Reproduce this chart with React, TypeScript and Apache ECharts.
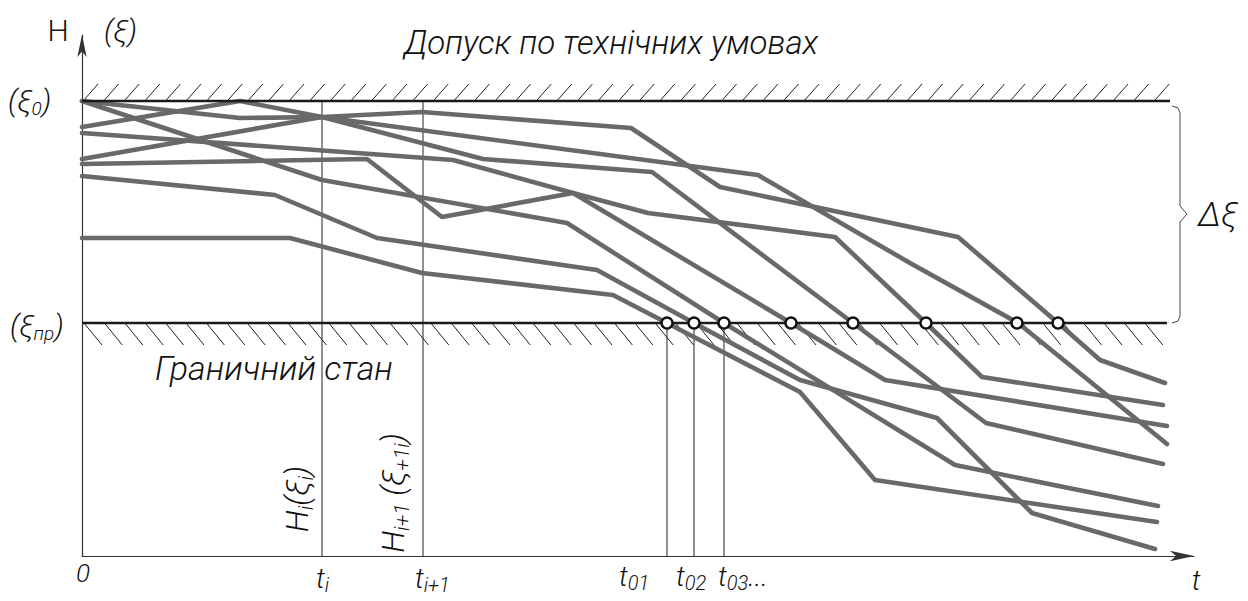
import React, { useEffect, useRef } from "react";
import * as echarts from "echarts";

// ---- layout constants (grid placement) ----
const ORIGIN_X = 82;
const ORIGIN_Y = 556;
const T_MAX = 1112;
const H_MAX = 521;

// ---- levels ----
const levelTop = 455; // (ξ0)
const levelLimit = 233; // (ξпр)
const levelTopEnd = 1088;
const levelLimitEnd = 1085;

// ---- degradation curves [t, H] ----
const curveA = [[0, 455], [158, 438], [240, 439], [676, 381], [828, 293], [936, 233], [1085, 112]];
const curveB = [[0, 429], [158, 455], [240, 439], [401, 397], [570, 384], [771, 233], [904, 133], [1081, 92]];
const curveC = [[0, 455], [240, 376], [485, 333], [642, 233], [873, 91], [1076, 50]];
const curveD = [[0, 423], [371, 396], [491, 363], [566, 343], [753, 319], [844, 233], [900, 179], [1081, 151]];
const curveE = [[0, 397], [240, 439], [340, 444], [549, 428], [638, 369], [876, 319], [976, 233], [1018, 196], [1083, 173]];
const curveF = [[0, 392], [285, 397], [360, 339], [491, 363], [709, 233], [803, 176], [1085, 130]];
const curveG = [[0, 380], [193, 361], [295, 318], [515, 286], [612, 233], [718, 176], [855, 138], [950, 43], [1073, 7]];
const curveH = [[0, 318], [208, 318], [340, 283], [531, 261], [585, 233], [718, 164], [793, 76], [1075, 34]];
const curves = [curveA, curveB, curveC, curveD, curveE, curveF, curveG, curveH];

// ---- crossing points with (ξпр) ----
const crossings = [585, 612, 642, 709, 771, 844, 935, 976];

// ---- vertical reference lines [t, top level] ----
const dropLines = [[240, 455], [341, 455], [585, 233], [612, 233], [642, 233]];

const FONT = "Roboto, 'Liberation Sans', sans-serif";
const X = (t: number) => ORIGIN_X + t;

const richBase = (size: number, italic: boolean, subRatio: number) => ({
  m: { fontSize: size, lineHeight: size + 6, fontFamily: FONT, fontStyle: italic ? "italic" : "normal", fill: "#111", fontWeight: 300 },
  s: { fontSize: Math.round(size * subRatio), lineHeight: Math.round(size * 0.55), verticalAlign: "bottom", fontFamily: FONT, fontStyle: italic ? "italic" : "normal", fill: "#111", fontWeight: 300 },
});

function txt(text: string, x: number, y: number, size: number, italic: boolean, align = "left", rotation = 0, subRatio = 0.64) {
  return {
    type: "text",
    x,
    y,
    rotation,
    z: 100,
    style: {
      text,
      rich: richBase(size, italic, subRatio),
      align,
      verticalAlign: "middle",
      fontFamily: FONT,
      fontSize: size,
      fill: "#111",
    },
  };
}

export default function App() {
  const ref = useRef<HTMLDivElement>(null);
  useEffect(() => {
    if (!ref.current) return;
    const chart = echarts.init(ref.current, undefined, { renderer: "svg" });

    const lineSeries = curves.map((c) => ({
      type: "line",
      data: c,
      symbol: "none",
      z: 3,
      lineStyle: { color: "#696969", width: 4.6, cap: "round", join: "round" },
      silent: true,
    }));

    const option: any = {
      animation: false,
      grid: { left: ORIGIN_X, top: ORIGIN_Y - H_MAX, width: T_MAX, height: H_MAX },
      xAxis: {
        type: "value",
        min: 0,
        max: T_MAX,
        axisLine: { show: true, onZero: false, symbol: ["none", "arrow"], symbolSize: [8, 24], lineStyle: { color: "#333", width: 1.2 } },
        axisTick: { show: false },
        axisLabel: { show: false },
        splitLine: { show: false },
      },
      yAxis: {
        type: "value",
        min: 0,
        max: H_MAX,
        axisLine: { show: true, onZero: false, symbol: ["none", "arrow"], symbolSize: [7, 22], lineStyle: { color: "#333", width: 1.2 } },
        axisTick: { show: false },
        axisLabel: { show: false },
        splitLine: { show: false },
      },
      series: [
        {
          type: "custom",
          silent: true,
          z: 1,
          data: dropLines,
          renderItem: (params: any, api: any) => {
            const p1 = api.coord([api.value(0), api.value(1)]);
            const p2 = api.coord([api.value(0), 0]);
            return {
              type: "line",
              shape: { x1: p1[0], y1: p1[1], x2: p2[0], y2: p2[1] },
              style: { stroke: "#222", lineWidth: 1 },
            };
          },
        },
        {
          type: "custom",
          silent: true,
          z: 1,
          data: [[0, 0]],
          renderItem: (params: any, api: any) => {
            const children: any[] = [];
            const a0 = api.coord([0, levelTop]);
            const a1 = api.coord([levelTopEnd, levelTop]);
            for (let x = a0[0] + 1; x <= a1[0] - 14; x += 20.6) {
              children.push({ type: "line", shape: { x1: x, y1: a0[1], x2: x + 15, y2: a0[1] - 17 }, style: { stroke: "#222", lineWidth: 1 } });
            }
            const b0 = api.coord([0, levelLimit]);
            const b1 = api.coord([levelLimitEnd, levelLimit]);
            for (let x = b0[0] + 2; x <= b1[0] - 17; x += 20.4) {
              children.push({ type: "line", shape: { x1: x, y1: b0[1], x2: x + 18, y2: b0[1] + 22 }, style: { stroke: "#222", lineWidth: 1 } });
            }
            return { type: "group", children };
          },
        },
        ...lineSeries,
        {
          type: "line",
          data: [[0, levelTop], [levelTopEnd, levelTop]],
          symbol: "none",
          z: 4,
          silent: true,
          lineStyle: { color: "#1a1a1a", width: 2.6 },
        },
        {
          type: "line",
          data: [[0, levelLimit], [levelLimitEnd, levelLimit]],
          symbol: "none",
          z: 4,
          silent: true,
          lineStyle: { color: "#1a1a1a", width: 2.6 },
        },
        {
          type: "scatter",
          data: crossings.map((t) => [t, levelLimit]),
          symbol: "circle",
          symbolSize: 11,
          z: 6,
          silent: true,
          itemStyle: { color: "#fff", borderColor: "#111", borderWidth: 2.4, opacity: 1 },
        },
      ],
      graphic: [
        txt("{m|H}", 58, 30, 30, false, "center"),
        txt("{m|(ξ)}", 104, 30, 30, true),
        txt("{m|Допуск по технічних умовах}", 404, 42, 33, true),
        txt("{m|(ξ}{s|0}{m|)}", 8, 100, 30, true),
        txt("{m|(ξ}{s|пр}{m|)}", 10, 325, 30, true),
        txt("{m|Граничний стан}", 155, 368, 34, true),
        {
          type: "polyline",
          z: 50,
          shape: { points: [[1172, 106], [1178, 108], [1180, 113], [1180, 206], [1187, 214], [1180, 222], [1180, 316], [1178, 321], [1172, 323]] },
          style: { stroke: "#444", lineWidth: 1, fill: "none" },
        },
        txt("{m|Δξ}", 1198, 214, 34, true),
        txt("{m|H}{s|i}{m|(ξ}{s|i}{m|)}", X(215), 499, 32, true, "center", Math.PI / 2, 0.66),
        txt("{m|H}{s|i+1}{m| (ξ}{s|+1i}{m|)}", X(311), 493, 32, true, "center", Math.PI / 2, 0.66),
        txt("{m|0}", X(1), 573, 26, true, "center"),
        txt("{m|t}{s|i}", X(240) - 6, 578, 28, true, "left", 0, 0.72),
        txt("{m|t}{s|i+1}", X(341) - 8, 578, 28, true, "left", 0, 0.72),
        txt("{m|t}{s|01}", X(585) - 48, 576, 28, true, "left", 0, 0.72),
        txt("{m|t}{s|02}", X(612) - 18, 576, 28, true, "left", 0, 0.72),
        txt("{m|t}{s|03}{m|...}", X(642) - 6, 576, 28, true, "left", 0, 0.72),
        txt("{m|t}", X(1114), 580, 28, true, "center"),
      ],
    };
    chart.setOption(option);
    return () => chart.dispose();
  }, []);
  return <div ref={ref} style={{ position: "fixed", left: 0, top: 0, width: 1248, height: 601, background: "#fff" }} />;
}
